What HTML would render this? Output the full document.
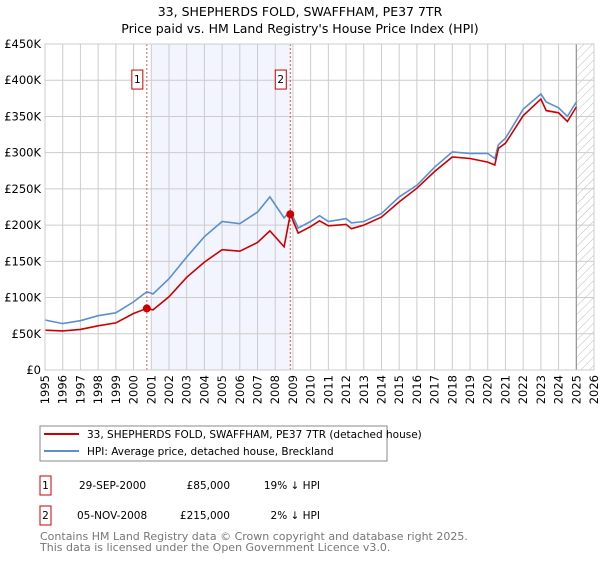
<!DOCTYPE html>
<html><head><meta charset="utf-8"><style>
body{margin:0;background:#fff;font-family:"Liberation Sans","DejaVu Sans",sans-serif;}
svg text{font-family:"DejaVu Sans","Liberation Sans",sans-serif;}
</style></head><body>
<svg id="chart" width="600" height="560" viewBox="0 0 600 560" xmlns="http://www.w3.org/2000/svg">
<defs><pattern id="hatch" width="6" height="6" patternUnits="userSpaceOnUse" patternTransform="rotate(45)"><line x1="0" y1="0" x2="0" y2="6" stroke="#bbb" stroke-width="1"/></pattern></defs>
<text x="300" y="16" text-anchor="middle" font-size="12.5">33, SHEPHERDS FOLD, SWAFFHAM, PE37 7TR</text>
<text x="300" y="33" text-anchor="middle" font-size="12.5">Price paid vs. HM Land Registry's House Price Index (HPI)</text>
<g id="plot"></g>
<g>
<rect x="40" y="426" width="347" height="35" fill="#fff" stroke="#888"/>
<line x1="44" y1="434" x2="79" y2="434" stroke="#cc0000" stroke-width="2"/>
<text x="87" y="438" font-size="10.5">33, SHEPHERDS FOLD, SWAFFHAM, PE37 7TR (detached house)</text>
<line x1="44" y1="451" x2="79" y2="451" stroke="#5b8fd0" stroke-width="2"/>
<text x="87" y="455" font-size="10.5">HPI: Average price, detached house, Breckland</text>
</g>
<g font-size="10.5">
<rect x="40" y="476" width="11" height="19" fill="#fff" stroke="#cc0000"/><text x="45.5" y="489" text-anchor="middle">1</text>
<text x="79" y="489">29-SEP-2000</text><text x="230" y="489" text-anchor="end">£85,000</text><text x="320" y="489" text-anchor="end">19% ↓ HPI</text>
<rect x="40" y="506" width="11" height="19" fill="#fff" stroke="#cc0000"/><text x="45.5" y="519" text-anchor="middle">2</text>
<text x="77" y="519">05-NOV-2008</text><text x="230" y="519" text-anchor="end">£215,000</text><text x="320" y="519" text-anchor="end">2% ↓ HPI</text>
</g>
<text x="40" y="540" font-size="11" fill="#777">Contains HM Land Registry data © Crown copyright and database right 2025.</text>
<text x="40" y="551" font-size="11" fill="#777">This data is licensed under the Open Government Licence v3.0.</text>
</svg>
<script>
const hpiYears=[1995,1996,1997,1998,1999,2000,2000.75,2001.1,2002,2003,2004,2005,2006,2007,2007.7,2008.5,2008.85,2009.3,2010,2010.5,2011,2012,2012.3,2013,2014,2015,2016,2017,2018,2019,2020,2020.4,2020.6,2021,2022,2023,2023.3,2024,2024.5,2025];
const hpiValues=[69,64,68,75,79,94,108,105,126,156,184,205,202,218,239,210,220,196,205,213,205,209,203,205,216,239,255,280,301,299,299,292,311,320,360,381,370,362,350,370];
const paidValues=[55,54,56,61,65,78,85,83,101,128,149,166,164,176,192,170,215,189,198,206,199,201,195,200,211,232,251,274,294,292,287,283,306,313,351,374,358,355,343,363];
const sales=[{n:"1",year:2000.75,price:85},{n:"2",year:2008.85,price:215}];
const yTicks=[0,50,100,150,200,250,300,350,400,450];
const xTicks=[1995,1996,1997,1998,1999,2000,2001,2002,2003,2004,2005,2006,2007,2008,2009,2010,2011,2012,2013,2014,2015,2016,2017,2018,2019,2020,2021,2022,2023,2024,2025,2026];
const L=45,R=594,T=44,B=370;
const x=v=>L+(v-1995)/31*(R-L);
const y=v=>B-v/450*(B-T);
const g=document.getElementById('plot');
const NS="http://www.w3.org/2000/svg";
function mk(tag,attrs,parent){const e=document.createElementNS(NS,tag);for(const k in attrs)e.setAttribute(k,attrs[k]);(parent||g).appendChild(e);return e;}
let e=mk('rect',{x:x(2001),y:T,width:x(2008.85)-x(2001),height:B-T,fill:'#f2f5fd'});


e=mk('rect',{x:x(2025),y:T,width:R-x(2025),height:B-T,fill:'url(#hatch)'});


yTicks.forEach(v=>{
 mk('line',{x1:L,x2:R,y1:y(v),y2:y(v),stroke:'#ccc'});
 const t=mk('text',{x:L-4,y:y(v)+4,'text-anchor':'end','font-size':'11.5'});t.textContent=v===0?'£0':'£'+v+'K';
 
 
});
xTicks.forEach(v=>{
 mk('line',{x1:x(v),x2:x(v),y1:T,y2:B,stroke:'#ccc'});
 const t=mk('text',{x:0,y:0,'text-anchor':'end','font-size':'11.5',transform:`translate(${x(v)+4},${B+5}) rotate(-90)`});t.textContent=v;
 
 
});
mk('line',{x1:x(2025),x2:x(2025),y1:T,y2:B,stroke:'#888'});
sales.forEach(s=>{
 e=mk('line',{x1:x(s.year),x2:x(s.year),y1:T,y2:B,stroke:'#e05050','stroke-dasharray':'2,2'});
 
 
 const bx=mk('rect',{x:x(s.year)-15,y:y(403)-8,width:11,height:19,fill:'#fff',stroke:'#cc0000'});
 
 
 const t=mk('text',{x:x(s.year)-9.5,y:y(403)+5,'text-anchor':'middle','font-size':'10.5'});t.textContent=s.n;
});
const pts=(vals)=>hpiYears.map((yr,i)=>x(yr).toFixed(1)+','+y(vals[i]).toFixed(1)).join(' ');
e=mk('polyline',{points:pts(hpiValues),fill:'none',stroke:'#5b8fd0','stroke-width':1.6});


e=mk('polyline',{points:pts(paidValues),fill:'none',stroke:'#cc0000','stroke-width':1.6});


sales.forEach(s=>{
 const c=mk('circle',{cx:x(s.year),cy:y(s.price),r:4,fill:'#cc0000'});
 
 
});
mk('rect',{x:L,y:T,width:R-L,height:B-T,fill:'none',stroke:'#ccc'});
</script>
</body></html>
